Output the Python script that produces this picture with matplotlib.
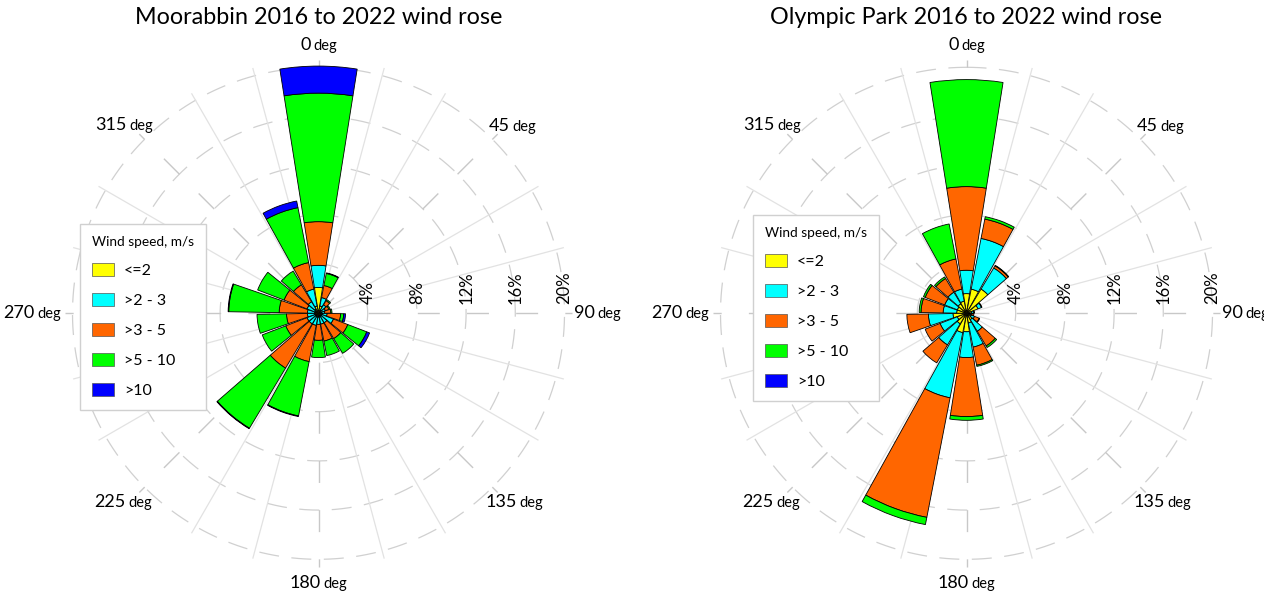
import numpy as np
import matplotlib.pyplot as plt
from matplotlib.patches import Patch
from matplotlib.offsetbox import TextArea, HPacker, AnnotationBbox

plt.rcParams['font.family'] = ['Lato', 'DejaVu Sans']

# direction bins (deg, clockwise from north), 18 bins of 20 deg
directions = np.arange(0, 360, 20)
speed_labels = ['<=2', '>2 - 3', '>3 - 5', '>5 - 10', '>10']
speed_colors = ['#ffff00', '#00ffff', '#ff6600', '#00ff00', '#0000ff']

# frequency (%) per direction bin for each speed class - Moorabbin
moor_le2 = [2.1, 0.6, 0.3, 0.2, 0.2, 0.3, 0.3, 0.3, 0.3, 0.3, 0.3, 0.3, 0.3, 0.3, 0.3, 0.3, 0.4, 0.6]
moor_2_3 = [1.8, 0.7, 0.5, 0.4, 0.3, 0.4, 1.0, 0.6, 0.6, 0.6, 0.7, 0.7, 0.7, 0.6, 0.6, 0.7, 0.7, 1.4]
moor_3_5 = [3.55, 1.0, 0.4, 0.3, 0.5, 1.1, 1.25, 1.5, 1.4, 1.3, 3.0, 4.2, 1.85, 1.7, 2.3, 2.0, 1.6, 2.2]
moor_5_10 = [10.45, 1.0, 0.1, 0.1, 0.1, 0.25, 1.65, 1.4, 1.2, 1.4, 4.5, 5.7, 2.05, 2.4, 4.1, 2.3, 1.3, 4.55]
moor_gt10 = [2.2, 0.05, 0, 0, 0, 0.15, 0.25, 0, 0, 0, 0.05, 0.05, 0, 0, 0.05, 0, 0, 0.55]

# Olympic Park
olym_le2 = [1.6, 2.0, 2.3, 1.0, 0.4, 0.3, 0.4, 0.6, 0.8, 1.5, 1.6, 1.0, 0.8, 1.1, 0.8, 0.8, 0.9, 1.0]
olym_2_3 = [1.9, 4.2, 2.0, 0.3, 0.2, 0.15, 0.3, 1.1, 2.0, 2.1, 5.4, 2.0, 1.5, 2.0, 1.1, 1.1, 1.1, 1.0]
olym_3_5 = [6.8, 1.6, 0.2, 0.05, 0.05, 0.15, 0.4, 1.4, 1.5, 4.8, 9.9, 1.7, 1.3, 1.75, 1.8, 1.7, 1.3, 2.5]
olym_5_10 = [8.7, 0.2, 0.05, 0, 0, 0, 0.05, 0.15, 0.1, 0.3, 0.6, 0, 0, 0, 0.15, 0.15, 0.15, 2.9]
olym_gt10 = [0] * 18

pct_ticks = [4, 8, 12, 16, 20]
deg_labels = [0, 45, 90, 135, 180, 225, 270, 315]
# where the direction labels sit (angle, radius in %)
deg_label_pos = [(0, 21.8), (46, 21.9), (90, 22.7), (134, 22.1),
                 (180, 21.9), (226, 22.1), (270, 23.3), (314, 22.0)]

W, H = 1264, 595
RMAX = 22
PX = 12.3  # pixels per percent
R = RMAX * PX

fig = plt.figure(figsize=(W / 100, H / 100), dpi=100)


def draw_rose(cx, cy, classes, title, leg_xy):
    ax = fig.add_axes([(cx - R) / W, (H - cy - R) / H, 2 * R / W, 2 * R / H],
                      projection='polar')
    ax.set_theta_zero_location('N')
    ax.set_theta_direction(-1)
    ax.set_ylim(0, RMAX)
    ax.axis('off')

    # grid
    th = np.linspace(0, 2 * np.pi, 500)
    for r in pct_ticks:
        ax.plot(th, np.full_like(th, r), color='#d0d0d0', lw=0.9,
                ls=(0, (16, 10)), zorder=1)
    for a in range(0, 360, 15):
        t = np.deg2rad(a)
        if a % 45 == 0:
            ax.plot([t, t], [0, 20.6], color='#c8c8c8', lw=1.0,
                    ls=(0, (15.8, 19.6)), zorder=1)
        else:
            ax.plot([t, t], [0, 20.6], color='#e2e2e2', lw=0.9, zorder=1)

    # stacked bars
    theta = np.deg2rad(directions)
    bottom = np.zeros(len(directions))
    for vals, col in zip(classes, speed_colors):
        vals = np.asarray(vals, dtype=float)
        m = vals > 0
        ax.bar(theta[m], vals[m], width=np.deg2rad(18), bottom=bottom[m],
               color=col, edgecolor='black', linewidth=0.6, zorder=3)
        bottom += vals

    # percentage labels along the east axis
    for r in pct_ticks:
        ax.annotate(f'{r}%', xy=(np.pi / 2, r), xytext=(0, 7),
                    textcoords='offset points', rotation=90,
                    ha='center', va='bottom', fontsize=12, zorder=5)

    # direction labels
    for a, (ang, rr) in zip(deg_labels, deg_label_pos):
        box = HPacker(children=[TextArea(str(a), textprops=dict(size=13)),
                                TextArea('deg', textprops=dict(size=10.5))],
                      align='baseline', pad=0, sep=2)
        ab = AnnotationBbox(box, (np.deg2rad(ang), rr), xycoords='data',
                            frameon=False, box_alignment=(0.5, 0.5),
                            annotation_clip=False)
        ax.add_artist(ab)

    fig.text(cx / W, 1 - 18 / H, title, ha='center', va='center', fontsize=16.8)

    handles = [Patch(facecolor=c, edgecolor='#555555', linewidth=0.5)
               for c in speed_colors]
    leg = fig.legend(handles, speed_labels, title='Wind speed, m/s',
                     loc='upper left',
                     bbox_to_anchor=(leg_xy[0] / W, 1 - leg_xy[1] / H),
                     borderaxespad=0, frameon=True, fancybox=False,
                     edgecolor='#d0d0d0', framealpha=1,
                     handlelength=1.4, handleheight=0.85, labelspacing=0.95,
                     borderpad=0.75, handletextpad=0.6, alignment='left',
                     fontsize=11.5, title_fontsize=9.8)
    leg.get_frame().set_linewidth(1.0)
    return ax


draw_rose(318.5, 313.3, [moor_le2, moor_2_3, moor_3_5, moor_5_10, moor_gt10],
          'Moorabbin 2016 to 2022 wind rose', (80, 224))
draw_rose(966.5, 313.3, [olym_le2, olym_2_3, olym_3_5, olym_5_10, olym_gt10],
          'Olympic Park 2016 to 2022 wind rose', (753, 215))

fig.savefig('out.png', dpi=100)
